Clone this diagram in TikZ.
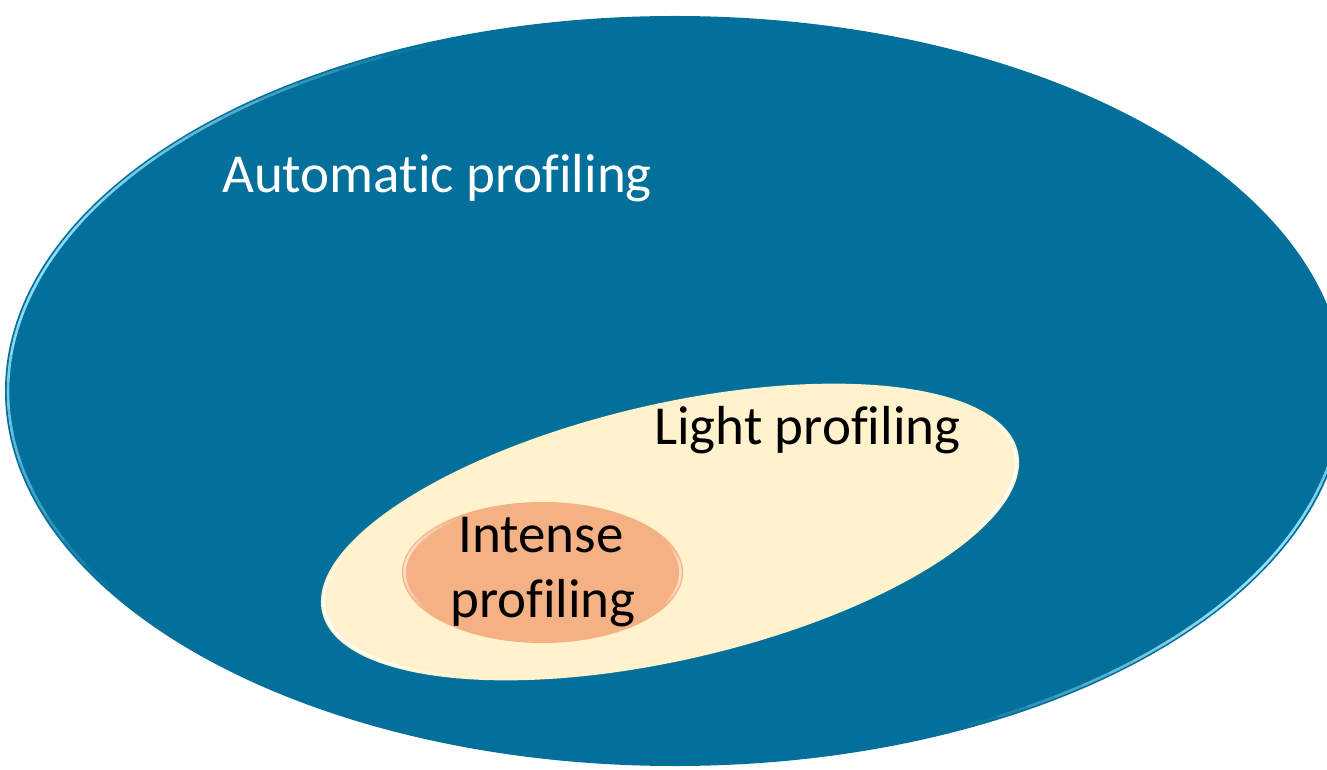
\documentclass[tikz,border=0pt]{standalone}
\usepackage{fontspec}
\setmainfont{Carlito}[Ligatures=NoCommon]
\definecolor{autoblue}{RGB}{3,112,155}
\definecolor{lightcream}{RGB}{255,242,204}
\definecolor{intenseorange}{RGB}{244,177,131}
\definecolor{rimblue}{RGB}{150,225,250}
% soft highlight along part of an ellipse edge, fading at both ends
% #1 colour, #2 x radius, #3 y radius, #4 start angle, #5 end angle, #6 peak opacity
\newcommand\drawbevel[6]{%
  \foreach \s in {0,...,23}{%
    \pgfmathsetmacro\ta{#4+(#5-#4)*\s/24}%
    \pgfmathsetmacro\tb{#4+(#5-#4)*(\s+1)/24}%
    \pgfmathsetmacro\op{#6*sin(180*(\s+0.5)/24)}%
    \draw[#1, draw opacity=\op, line width=2.6pt]
      (\ta:#2 and #3) arc[start angle=\ta, end angle=\tb, x radius=#2, y radius=#3];
  }}
\begin{document}
\begin{tikzpicture}[x=1pt,y=1pt,
  txt/.style={inner sep=0pt, font=\fontsize{55}{65}\selectfont}]
\useasboundingbox (0,0) rectangle (1327,769);
\clip (0,0) rectangle (1327,769);

% outer set
\begin{scope}[shift={(675,378)}]
  \fill[autoblue] (0,0) ellipse [x radius=670, y radius=375];
  \drawbevel{rimblue}{667}{372}{112}{212}{0.95}
  \drawbevel{rimblue}{667}{372}{-64}{6}{1}
\end{scope}

% middle set
\begin{scope}[shift={(670,237)}, rotate=13]
  \fill[lightcream] (0,0) ellipse [x radius=357, y radius=128];
  \drawbevel{white}{354}{125}{150}{230}{1}
  \drawbevel{white}{354}{125}{-40}{20}{1}
\end{scope}

% inner set
\begin{scope}[shift={(542.5,196.5)}]
  \fill[intenseorange] (0,0) ellipse [x radius=140.5, y radius=70.5];
  \drawbevel{white}{138}{68}{125}{215}{0.6}
  \drawbevel{white}{138}{68}{-30}{25}{0.6}
\end{scope}

\node[txt, text=white, anchor=base west] (auto) at (222,576) {Automatic profiling};
\node[txt, anchor=base west] (light) at (654,324) {Light profiling};
\node[txt, anchor=base] (intenseA) at (541,217) {Intense};
\node[txt, anchor=base] (intenseB) at (543,152) {profiling};
\end{tikzpicture}
\end{document}
